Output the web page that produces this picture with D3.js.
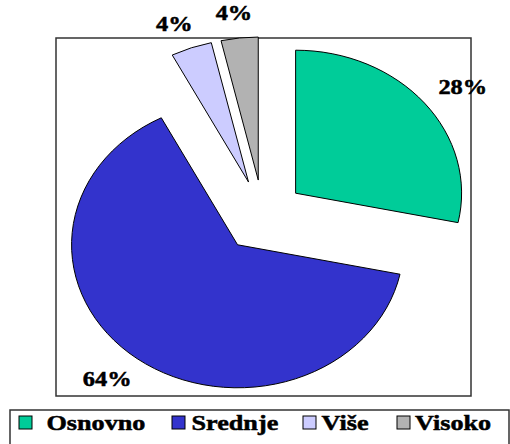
<!DOCTYPE html>
<html>
<head>
<meta charset="utf-8">
<script src="https://cdn.jsdelivr.net/npm/d3@7"></script>
<style>
  body { margin: 0; background: #fff; }
  svg { display: block; }
</style>
</head>
<body>
<div id="chart"></div>
<script>
// data
const categories = ['Osnovno', 'Srednje', 'Više', 'Visoko']
const shares = [28.3, 64.1, 4.0, 3.6]
const shareLabels = ['28%', '64%', '4%', '4%']
const colors = ['#00CC99', '#3333CC', '#CCCCFF', '#B2B2B2']

const width = 510, height = 444
const center = {x: 263, y: 216}
const rx = 166, ry = 143        // the pie is stretched sideways
const explode = 0.253           // fraction of radius each slice is pulled out
const labelRx = 1.55, labelRy = 1.43
const stretch = rx / ry
const serif = 'Liberation Serif'

const svg = d3.select('#chart').append('svg')
  .attr('width', width)
  .attr('height', height)

// plot area frame
svg.append('rect')
  .attr('x', 56).attr('y', 38)
  .attr('width', 415).attr('height', 358)
  .attr('fill', '#fff')
  .attr('stroke', '#333')
  .attr('stroke-width', 1.5)

const pie = d3.pie().sort(null).startAngle(0).endAngle(2 * Math.PI)
const arcs = pie(shares)
const arc = d3.arc().innerRadius(0).outerRadius(rx)

const pieG = svg.append('g')
  .attr('transform', `translate(${center.x},${center.y}) scale(1,${ry / rx})`)

pieG.selectAll('path')
  .data(arcs)
  .enter().append('path')
    .attr('d', arc)
    .attr('transform', d => {
      let mid = (d.startAngle + d.endAngle) / 2
      return `translate(${explode * rx * Math.sin(mid)},${-explode * rx * Math.cos(mid)})`
    })
    .attr('fill', (d, i) => colors[i])
    .attr('stroke', '#000')
    .attr('stroke-width', 1)
    .attr('vector-effect', 'non-scaling-stroke')

// percentage labels outside the slices
svg.selectAll('text.pct')
  .data(arcs)
  .enter().append('text')
    .attr('class', 'pct')
    .attr('transform', d => {
      let mid = (d.startAngle + d.endAngle) / 2,
          x = center.x + labelRx * rx * Math.sin(mid),
          y = center.y - labelRy * ry * Math.cos(mid) + 7
      return `translate(${x},${y}) scale(${stretch},1)`
    })
    .attr('text-anchor', 'middle')
    .attr('font-family', serif)
    .attr('font-weight', 'bold')
    .attr('font-size', 21)
    .attr('stroke', '#000')
    .attr('stroke-width', 0.5)
    .text((d, i) => shareLabels[i])

// legend
const legendSquareX = [19, 172, 303, 397]
const legendTextX = [46.5, 191.5, 321.5, 415]

svg.append('rect')
  .attr('x', 10).attr('y', 410)
  .attr('width', 499).attr('height', 40)
  .attr('fill', '#fff')
  .attr('stroke', '#333')
  .attr('stroke-width', 1.5)

const legend = svg.append('g')

legend.selectAll('rect.key')
  .data(categories)
  .enter().append('rect')
    .attr('class', 'key')
    .attr('x', (d, i) => legendSquareX[i])
    .attr('y', 416)
    .attr('width', 13)
    .attr('height', 13)
    .attr('fill', (d, i) => colors[i])
    .attr('stroke', '#000')
    .attr('stroke-width', 1)

legend.selectAll('text.key')
  .data(categories)
  .enter().append('text')
    .attr('class', 'key')
    .attr('transform', (d, i) => `translate(${legendTextX[i]},430) scale(1.19,1)`)
    .attr('font-family', serif)
    .attr('font-weight', 'bold')
    .attr('font-size', 22)
    .attr('stroke', '#000')
    .attr('stroke-width', 0.5)
    .text(d => d)
</script>
</body>
</html>
